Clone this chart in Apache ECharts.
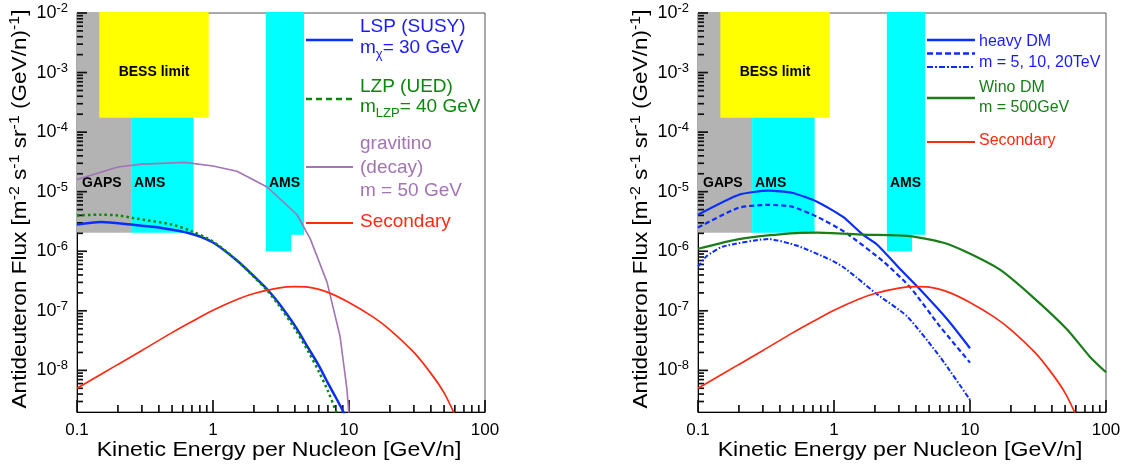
<!DOCTYPE html>
<html><head><meta charset="utf-8">
<script src="https://cdn.jsdelivr.net/npm/echarts@6/dist/echarts.min.js"></script>
<style>html,body{margin:0;padding:0;background:#fff}#c{width:1133px;height:465px}</style>
</head><body><div id="c"></div><script>
const FONT = '"Liberation Sans", Arial, Helvetica, sans-serif';

// ---------- data (energy in GeV/n, flux in (m^2 s sr GeV/n)^-1) ----------
const bandKind  = ['GAPS', 'AMS', 'AMS', 'AMS', 'BESS'];
const bandLabel = ['GAPS', 'AMS', '', 'AMS', 'BESS limit'];
const bandEmin  = [0.1, 0.25, 2.45, 2.45, 0.146];
const bandEmax  = [0.25, 0.72, 3.75, 4.67, 0.93];
const bandFmin  = [2.05e-6, 2.05e-6, 1e-6, 1.9e-6, 1.75e-4];
const bandFmax  = [1e-2, 1e-2, 1e-2, 1e-2, 1e-2];

const lspE = [0.1, 0.15, 0.25, 0.4, 0.7, 1, 1.5, 2, 2.5, 3, 4, 5, 6, 7, 8, 9, 9.5];
const lspF = [2.8e-6, 3.1e-6, 2.8e-6, 2.5e-6, 1.95e-6, 1.4e-6, 7e-7, 3.8e-7, 2.3e-7, 1.4e-7, 5.6e-8, 2.4e-8, 1.2e-8, 6.1e-9, 3.5e-9, 2.1e-9, 1.6e-9];
const lzpE = [0.1, 0.15, 0.2, 0.26, 0.5, 0.7, 1, 1.5, 2, 2.5, 3, 4, 5, 6, 7, 8, 8.6];
const lzpF = [4.0e-6, 4.1e-6, 4.0e-6, 3.6e-6, 2.8e-6, 2.15e-6, 1.45e-6, 7e-7, 3.7e-7, 2.2e-7, 1.3e-7, 5e-8, 2.1e-8, 9.5e-9, 4.5e-9, 2.1e-9, 1.4e-9];
const gravE = [0.1, 0.2, 0.3, 0.62, 1.0, 1.5, 2.5, 4.15, 5.2, 6.9, 8.6, 9.66, 10.2];
const gravF = [1.6e-5, 2.6e-5, 2.9e-5, 3.1e-5, 2.7e-5, 2.2e-5, 1.2e-5, 4.1e-6, 1.6e-6, 3e-7, 3.7e-8, 4.8e-9, 1e-9];
const secE = [0.1, 0.2, 0.3, 0.5, 0.7, 1, 1.5, 2, 3, 4, 5, 7, 10, 15, 20, 30, 40, 50, 60];
const secF = [5e-9, 1.26e-8, 2.16e-8, 4.3e-8, 6.6e-8, 1.02e-7, 1.55e-7, 1.95e-7, 2.4e-7, 2.54e-7, 2.5e-7, 2.04e-7, 1.38e-7, 7.9e-8, 4.8e-8, 2.0e-8, 8.9e-9, 4.2e-9, 1.8e-9];

const hd5E  = [0.1, 0.2, 0.33, 0.49, 0.75, 1.16, 1.63, 2.07, 3, 4.28, 6.8, 10];
const hd5F  = [4.1e-6, 8.9e-6, 1.04e-5, 9.6e-6, 6.8e-6, 3.8e-6, 1.9e-6, 1.3e-6, 5.3e-7, 2.3e-7, 7.2e-8, 2.35e-8];
const hd10E = [0.1, 0.2, 0.33, 0.49, 0.75, 1.2, 2.29, 3.62, 6.0, 10];
const hd10F = [2.5e-6, 5.4e-6, 6e-6, 5.6e-6, 3.8e-6, 2.1e-6, 6.8e-7, 2.5e-7, 5.5e-8, 1.35e-8];
const hd20E = [0.1, 0.116, 0.153, 0.33, 0.53, 0.93, 1.16, 1.47, 2.07, 3.44, 6.0, 10];
const hd20F = [5.5e-7, 8.3e-7, 1.2e-6, 1.6e-6, 1.25e-6, 7.3e-7, 5.5e-7, 3.6e-7, 1.9e-7, 8.1e-8, 1.7e-8, 3.2e-9];
const winoE = [0.1, 0.2, 0.48, 0.75, 1.63, 3.6, 6.3, 9.5, 16.6, 29, 51.6, 76, 100];
const winoF = [1.1e-6, 1.6e-6, 2.0e-6, 2.05e-6, 1.9e-6, 1.8e-6, 1.4e-6, 9.6e-7, 4.9e-7, 1.7e-7, 4.9e-8, 1.7e-8, 9.3e-9];

const xDecades = [-1, 0, 1, 2];
const yDecades = [-8, -7, -6, -5, -4, -3, -2];

// ---------- helpers ----------
const L = Math.log10;
const pairs = (xs, ys) => xs.map((x, i) => [L(x), L(ys[i])]);
const xMin = -1, xMax = 2, yMin = L(2e-9), yMax = -2;
const xMinor = [];
for (let d = -1; d <= 1; d++) for (let k = 2; k <= 9; k++) xMinor.push(d + L(k));
const yMinor = [];
for (let d = -9; d <= -3; d++) for (let k = 2; k <= 9; k++) { const v = d + L(k); if (v > yMin + 1e-6) yMinor.push(v); }

const GRID_L = [77, 698];

function xAxis(g) {
  return { type: 'value', gridIndex: g, position: 'bottom', min: xMin, max: xMax,
    axisLine: { show: true, onZero: false, lineStyle: { color: '#000', width: 1 } },
    axisTick: { show: false },
    axisLabel: { show: true, customValues: xDecades, fontSize: 17, color: '#000', fontFamily: FONT, margin: 10,
      formatter: v => String(+Math.pow(10, v).toPrecision(3)) },
    splitLine: { show: false } };
}
function yAxis(g) {
  return { type: 'value', gridIndex: g, position: 'left', min: yMin, max: yMax,
    axisLine: { show: true, onZero: false, lineStyle: { color: '#000', width: 1 } },
    axisTick: { show: false },
    axisLabel: { show: true, customValues: yDecades, margin: 9,
      formatter: v => '{b|10}{s|' + Math.round(v) + '}',
      rich: {
        b: { fontSize: 18, lineHeight: 22, color: '#000', fontFamily: FONT },
        s: { fontSize: 13, lineHeight: 12, verticalAlign: 'top', color: '#000', fontFamily: FONT }
      } },
    splitLine: { show: false } };
}

const bandColor = { GAPS: '#b3b3b3', AMS: '#00ffff', BESS: '#ffff00' };
const bandData = bandEmin.map((e, i) => [L(e), L(bandFmin[i]), L(bandEmax[i]), L(bandFmax[i])]);

// inward log ticks, placed with api.coord (drawn a little heavier so they stay visible)
const TICK_W = 1.7;
function tickRects(api) {
  const out = [];
  const addX = (v, len) => { const p = api.coord([v, yMin]);
    out.push({ type: 'rect', z2: 50, shape: { x: p[0] - TICK_W / 2, y: p[1] - len, width: TICK_W, height: len }, style: { fill: '#111' } }); };
  const addY = (v, len) => { const p = api.coord([xMin, v]);
    out.push({ type: 'rect', z2: 50, shape: { x: p[0], y: p[1] - TICK_W / 2, width: len, height: TICK_W }, style: { fill: '#111' } }); };
  xDecades.forEach(v => addX(v, 12)); xMinor.forEach(v => addX(v, 7));
  yDecades.forEach(v => addY(v, 10)); yMinor.forEach(v => addY(v, 6));
  return out;
}

function bandSeries(g) {
  return {
    type: 'custom', xAxisIndex: g, yAxisIndex: g, z: 1, silent: true, clip: false,
    encode: { x: [0, 2], y: [1, 3] },
    data: bandData,
    renderItem: (params, api) => {
      const i = params.dataIndex;
      const p0 = api.coord([api.value(0), api.value(3)]);
      const p1 = api.coord([api.value(2), api.value(1)]);
      const children = [{
        type: 'rect', shape: { x: p0[0], y: p0[1] - 1, width: p1[0] - p0[0], height: p1[1] - p0[1] + 1 },
        style: { fill: bandColor[bandKind[i]] }
      }];
      const txt = bandLabel[i];
      if (txt) {
        let x, y, align;
        if (bandKind[i] === 'BESS') {
          x = (p0[0] + p1[0]) / 2; y = api.coord([0, L(1e-3)])[1]; align = 'center';
        } else {
          x = p0[0] + (bandKind[i] === 'GAPS' ? 5 : 3); y = api.coord([0, L(1.4e-5)])[1]; align = 'left';
        }
        children.push({ type: 'text', x: x, y: y, z2: 5,
          style: { text: txt, font: 'bold 14px ' + FONT, fill: '#000', align: align, verticalAlign: 'middle' } });
      }
      if (i === bandData.length - 1) tickRects(api).forEach(t => children.push(t));
      return { type: 'group', children };
    }
  };
}

function line(g, xs, ys, color, width, dash, smooth) {
  return {
    type: 'line', xAxisIndex: g, yAxisIndex: g, data: pairs(xs, ys),
    showSymbol: false, symbol: 'none', smooth: smooth || false, clip: true, z: 3, silent: true,
    lineStyle: { color: color, width: width, type: dash || 'solid' }
  };
}

const BLUE = '#0a2dff', GREEN = '#0b870b', WINO = '#1a7d1a', PURPLE = '#a274b4', RED = '#ff2a12';

// ---------- graphic: titles and legends ----------
const graphics = [];
function yTitle(x) {
  const n = s => '{n|' + s + '}', s = t => '{s|' + t + '}';
  graphics.push({
    type: 'text', x: x, y: 209, rotation: Math.PI / 2, scaleX: 1.1, silent: true,
    style: {
      text: n('Antideuteron Flux [m') + s('-2') + n(' s') + s('-1') + n(' sr') + s('-1') + n(' (GeV/n)') + s('-1') + n(']'),
      align: 'center', verticalAlign: 'middle',
      rich: {
        n: { fontSize: 20.5, lineHeight: 26, fontFamily: FONT, fill: '#000' },
        s: { fontSize: 14.5, lineHeight: 12, verticalAlign: 'top', fontFamily: FONT, fill: '#000' }
      }
    }
  });
}
yTitle(20); yTitle(641);
function xTitle(x) {
  graphics.push({ type: 'text', x: x, y: 450, scaleX: 1.1, silent: true,
    style: { text: 'Kinetic Energy per Nucleon [GeV/n]', font: '21px ' + FONT, fill: '#000', align: 'center', verticalAlign: 'middle' } });
}
xTitle(279); xTitle(900);

function legLine(x1, x2, y, color, width, dash) {
  graphics.push({ type: 'line', silent: true, shape: { x1, y1: y, x2, y2: y },
    style: { stroke: color, lineWidth: width, lineDash: dash || null } });
}
function legText(x, y, str, color, size) {
  graphics.push({ type: 'text', x, y, silent: true,
    style: { text: str, align: 'left', verticalAlign: 'middle',
      rich: {
        n: { fontSize: size, lineHeight: size + 7, fontFamily: FONT, fill: color },
        sub: { fontSize: Math.round(size * 0.68), lineHeight: 10, verticalAlign: 'bottom', fontFamily: FONT, fill: color }
      } } });
}
legLine(306, 353, 40, BLUE, 2.5);
legText(360, 27, '{n|LSP (SUSY)}', '#1a1aff', 19);
legText(360, 48, '{n|m}{sub|χ}{n|= 30 GeV}', '#1a1aff', 19);
legLine(306, 353, 99, GREEN, 2.5, [6, 4]);
legText(360, 87, '{n|LZP (UED)}', GREEN, 19);
legText(360, 107, '{n|m}{sub|LZP}{n|= 40 GeV}', GREEN, 19);
legLine(306, 353, 167, PURPLE, 2);
legText(360, 144, '{n|gravitino}', PURPLE, 19);
legText(360, 168, '{n|(decay)}', PURPLE, 19);
legText(360, 191, '{n|m = 50 GeV}', PURPLE, 19);
legLine(306, 353, 223, RED, 2);
legText(360, 222, '{n|Secondary}', RED, 19);
legLine(927, 975, 40, BLUE, 2.5);
legLine(927, 975, 53.5, BLUE, 2.5, [6, 3]);
legLine(927, 975, 67, BLUE, 2, [6, 2, 2, 2]);
legText(979, 42, '{n|heavy DM}', '#1a1aff', 16);
legText(979, 63, '{n|m = 5, 10, 20TeV}', '#1a1aff', 16);
legLine(927, 975, 98, WINO, 2.5);
legText(979, 88, '{n|Wino DM}', WINO, 16);
legText(979, 108, '{n|m = 500GeV}', WINO, 16);
legLine(927, 975, 142, RED, 2);
legText(979, 141, '{n|Secondary}', RED, 16);

// ---------- chart ----------
const series = [];
[0, 1].forEach(g => {
  series.push(bandSeries(g));
  if (g === 0) {
    series.push(line(0, lspE, lspF, BLUE, 2.5, 'solid', 0.3));
    series.push(line(0, lzpE, lzpF, GREEN, 2.5, [2.5, 3], 0.3));
    series.push(line(0, gravE, gravF, PURPLE, 1.6));
    series.push(line(0, secE, secF, RED, 1.7, 'solid', 0.3));
  } else {
    series.push(line(1, hd5E, hd5F, BLUE, 2.2, 'solid', 0.2));
    series.push(line(1, hd10E, hd10F, BLUE, 2.2, [5, 3], 0.2));
    series.push(line(1, hd20E, hd20F, BLUE, 2, [5, 2, 1.5, 2], 0.2));
    series.push(line(1, winoE, winoF, WINO, 2.2, 'solid', 0.2));
    series.push(line(1, secE, secF, RED, 1.7, 'solid', 0.3));
  }
});

const chart = echarts.init(document.getElementById('c'), null, { renderer: 'canvas' });
chart.setOption({
  animation: false,
  backgroundColor: '#fff',
  grid: GRID_L.map(l => ({ left: l, top: 13, width: 408, height: 399, show: true, borderColor: '#555', borderWidth: 1, backgroundColor: 'transparent' })),
  xAxis: [xAxis(0), xAxis(1)],
  yAxis: [yAxis(0), yAxis(1)],
  series: series,
  graphic: graphics
});
</script></body></html>
